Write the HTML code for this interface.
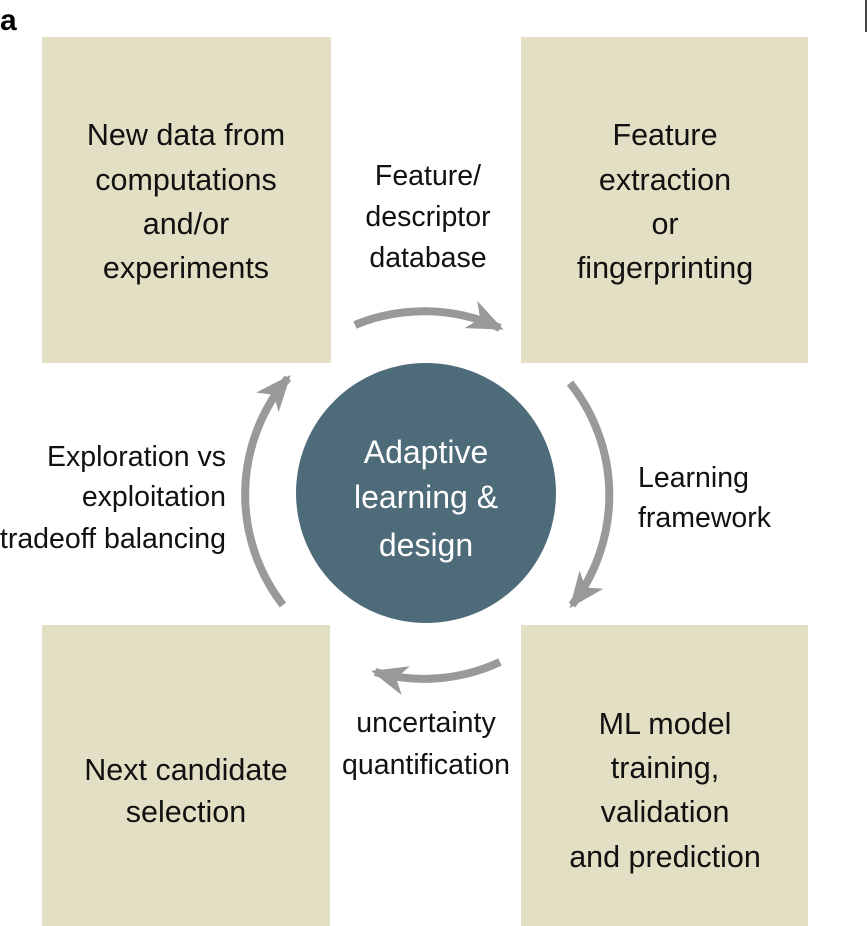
<!DOCTYPE html>
<html><head><meta charset="utf-8"><style>
html,body{margin:0;padding:0;background:#fff;}
svg{display:block;}
text{font-family:"Liberation Sans",sans-serif;}
</style></head><body>
<svg width="868" height="926" viewBox="0 0 868 926" xmlns="http://www.w3.org/2000/svg">
<defs>
<marker id="ah" markerUnits="userSpaceOnUse" markerWidth="38" markerHeight="30" refX="32" refY="15" orient="auto">
<path d="M0,0 L36,15 L0,30 L10,15 z" fill="#999"/>
</marker>
</defs>
<text x="0" y="30" font-size="30" font-weight="bold" fill="#000">a</text>
<line x1="866" y1="0" x2="866" y2="32" stroke="#444" stroke-width="2"/>
<rect x="42" y="37" width="289" height="326" fill="#e3dfc4"/>
<rect x="521" y="37" width="287" height="326" fill="#e3dfc4"/>
<rect x="42" y="625" width="288" height="301" fill="#e3dfc4"/>
<rect x="521" y="625" width="287" height="301" fill="#e3dfc4"/>
<circle cx="426" cy="493" r="130" fill="#4e6b7a"/>
<g fill="none" stroke="#999" stroke-width="8" marker-end="url(#ah)">
<path d="M355,325 A180,180 0 0 1 500,328"/>
<path d="M570,383 A180,180 0 0 1 572,605"/>
<path d="M500,662 A180,180 0 0 1 375,672"/>
<path d="M283,605 A180,180 0 0 1 288,378"/>
</g>
<g font-size="30.5" fill="#111" text-anchor="middle" dominant-baseline="central">
<text x="186" y="135">New data from</text>
<text x="186" y="180">computations</text>
<text x="186" y="224">and/or</text>
<text x="186" y="268">experiments</text>
<text x="665" y="135">Feature</text>
<text x="665" y="180">extraction</text>
<text x="665" y="224">or</text>
<text x="665" y="268">fingerprinting</text>
<text x="186" y="770">Next candidate</text>
<text x="186" y="812">selection</text>
<text x="665" y="724">ML model</text>
<text x="665" y="768">training,</text>
<text x="665" y="812">validation</text>
<text x="665" y="857">and prediction</text>
</g>
<g font-size="28.5" fill="#111" dominant-baseline="central">
<text x="428" y="176" text-anchor="middle">Feature/</text>
<text x="428" y="217" text-anchor="middle">descriptor</text>
<text x="428" y="258" text-anchor="middle">database</text>
<text x="638" y="478">Learning</text>
<text x="638" y="518">framework</text>
<text x="226" y="457" text-anchor="end">Exploration vs</text>
<text x="226" y="497" text-anchor="end">exploitation</text>
<text x="226" y="539" text-anchor="end">tradeoff balancing</text>
<text x="426" y="723" text-anchor="middle">uncertainty</text>
<text x="426" y="765" text-anchor="middle">quantification</text>
</g>
<g font-size="32" fill="#fff" text-anchor="middle" dominant-baseline="central">
<text x="426" y="452">Adaptive</text>
<text x="426" y="497">learning &amp;</text>
<text x="426" y="545">design</text>
</g>
</svg>
</body></html>
